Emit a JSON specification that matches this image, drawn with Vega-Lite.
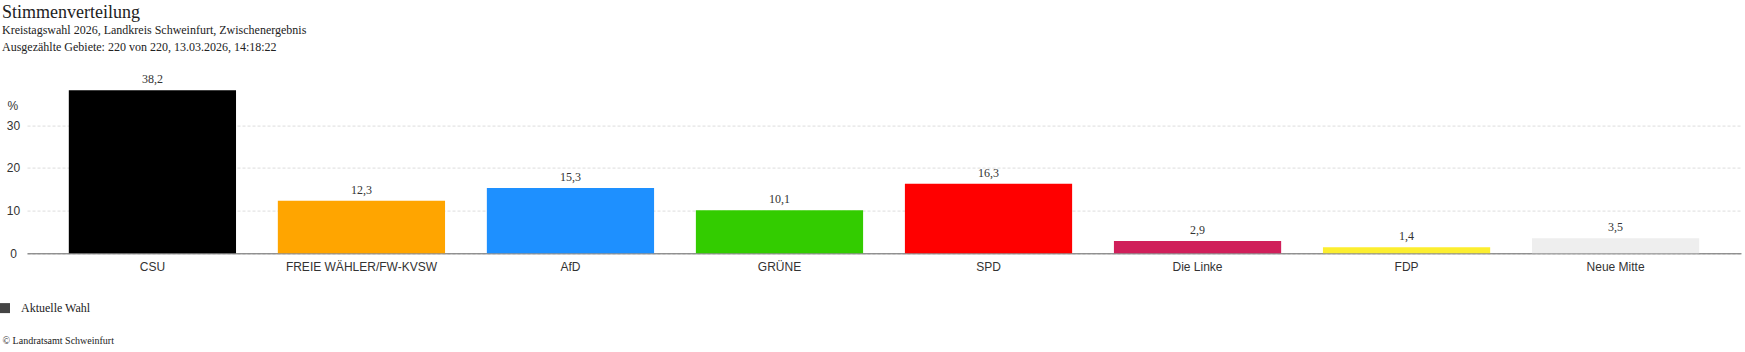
{
  "$schema": "https://vega.github.io/schema/vega-lite/v6.json",
  "autosize": {"type": "none"},
  "width": 1714,
  "height": 170.7,
  "padding": {"left": 27, "top": 82.6, "right": 4, "bottom": 98.7},
  "background": "white",
  "config": {
    "view": {"stroke": null},
    "locale": {"number": {"decimal": ",", "thousands": ".", "grouping": [3], "currency": ["", " €"]}}
  },
  "title": {
    "text": "Stimmenverteilung",
    "subtitle": ["Kreistagswahl 2026, Landkreis Schweinfurt, Zwischenergebnis", "Ausgezählte Gebiete: 220 von 220, 13.03.2026, 14:18:22"],
    "anchor": "start",
    "frame": "group",
    "dx": -25,
    "font": "Liberation Serif",
    "fontSize": 18,
    "fontWeight": "normal",
    "color": "#222",
    "subtitleFont": "Liberation Serif",
    "subtitleFontSize": 12,
    "subtitleColor": "#222",
    "subtitleLineHeight": 17,
    "subtitlePadding": 3,
    "offset": 20
  },
  "data": {
    "values": [
      {"partei": "CSU", "prozent": 38.2},
      {"partei": "FREIE WÄHLER/FW-KVSW", "prozent": 12.3},
      {"partei": "AfD", "prozent": 15.3},
      {"partei": "GRÜNE", "prozent": 10.1},
      {"partei": "SPD", "prozent": 16.3},
      {"partei": "Die Linke", "prozent": 2.9},
      {"partei": "FDP", "prozent": 1.4},
      {"partei": "Neue Mitte", "prozent": 3.5}
    ]
  },
  "encoding": {
    "x": {
      "field": "partei",
      "type": "nominal",
      "sort": null,
      "scale": {"paddingInner": 0.2, "paddingOuter": 0.2},
      "axis": {
        "title": "© Landratsamt Schweinfurt",
        "titleFont": "Liberation Serif",
        "titleFontSize": 10,
        "titleFontWeight": "normal",
        "titleColor": "#222",
        "titleAnchor": "start",
        "titleAlign": "left",
        "titleX": -25,
        "titleY": 87,
        "titleBaseline": "middle",
        "labelAngle": 0,
        "labelFont": "Liberation Sans",
        "labelFontSize": 12,
        "labelColor": "#333",
        "labelPadding": 8,
        "labelLimit": 0,
        "ticks": false,
        "domainColor": "#666",
        "domainWidth": 1,
        "grid": false
      }
    },
    "y": {
      "field": "prozent",
      "type": "quantitative",
      "scale": {"domain": [0, 40], "nice": false},
      "axis": {
        "values": [0, 10, 20, 30],
        "title": "%",
        "titleAngle": 0,
        "titleX": -20,
        "titleY": 22.4,
        "titleAlign": "left",
        "titleBaseline": "middle",
        "titleFont": "Liberation Sans",
        "titleFontSize": 12,
        "titleFontWeight": "normal",
        "titleColor": "#333",
        "domain": false,
        "ticks": false,
        "tickSize": 0,
        "labelAlign": "center",
        "labelPadding": 14,
        "labelFont": "Liberation Sans",
        "labelFontSize": 12,
        "labelColor": "#333",
        "gridColor": "#ddd",
        "gridDash": [3, 2]
      }
    }
  },
  "layer": [
    {
      "mark": {"type": "bar"},
      "encoding": {
        "color": {
          "field": "partei",
          "type": "nominal",
          "scale": {
            "domain": ["CSU", "FREIE WÄHLER/FW-KVSW", "AfD", "GRÜNE", "SPD", "Die Linke", "FDP", "Neue Mitte"],
            "range": ["#000000", "#FFA500", "#1E90FF", "#33CC00", "#FF0000", "#D01F5A", "#FCEE2F", "#EEEEEE"]
          },
          "legend": null
        }
      }
    },
    {
      "mark": {"type": "text", "baseline": "bottom", "dy": -4, "font": "Liberation Serif", "fontSize": 12, "color": "#333"},
      "encoding": {
        "text": {"field": "prozent", "type": "quantitative", "format": ".1f"}
      }
    },
    {
      "mark": {"type": "point", "opacity": 0, "filled": true, "color": "#444"},
      "encoding": {
        "shape": {
          "datum": "Aktuelle Wahl",
          "scale": {"range": ["square"]},
          "legend": {
            "orient": "none",
            "legendX": -28,
            "legendY": 219.5,
            "title": null,
            "symbolType": "square",
            "symbolSize": 100,
            "symbolFillColor": "#444",
            "symbolStrokeWidth": 0,
            "symbolOpacity": 1,
            "labelFont": "Liberation Serif",
            "labelFontSize": 12,
            "labelColor": "#222",
            "labelOffset": 10,
            "padding": 0,
            "encode": {"symbols": {"update": {"opacity": {"value": 1}, "fill": {"value": "#444"}, "stroke": {"value": "transparent"}}}}
          }
        }
      }
    }
  ]
}
